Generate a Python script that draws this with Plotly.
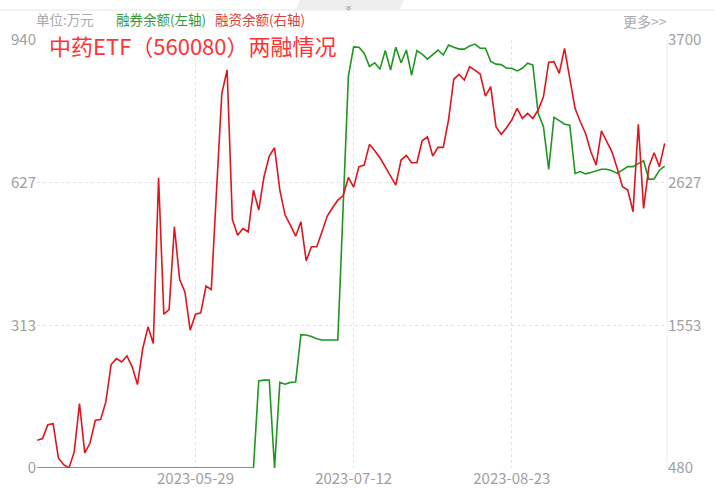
import pandas as pd
import plotly.graph_objects as go

# ---- data ----
holidays = ["2023-05-01", "2023-05-02", "2023-05-03", "2023-06-22", "2023-06-23",
            "2023-09-29", "2023-10-02", "2023-10-03", "2023-10-04", "2023-10-05", "2023-10-06"]
dates = [d.strftime("%Y-%m-%d") for d in
         pd.bdate_range("2023-04-12", "2023-10-11", freq="C", holidays=holidays)]

# 融券余额 (left axis, 万元)
short_balance = [0] * 42 + [
    191, 193, 193, 0, 188, 184, 188, 189, 293, 292,
    289, 284, 281, 281, 281, 281, 570, 860, 925, 924,
    911, 882, 890, 876, 917, 874, 924, 890, 918, 863,
    917, 909, 898, 909, 918, 907, 929, 924, 920, 920,
    927, 931, 922, 922, 893, 887, 886, 878, 878, 872,
    878, 889, 885, 779, 750, 656, 770, 763, 755, 753,
    647, 651, 646, 649, 652, 656, 656, 653, 647, 654,
    662, 662, 669, 675, 634, 635, 654, 663]

# 融资余额 (right axis, 万元)
margin_balance = [
    688, 701, 806, 814, 556, 505, 480, 601, 965, 593,
    668, 839, 844, 977, 1258, 1303, 1278, 1323, 1241, 1108,
    1379, 1542, 1416, 2664, 1637, 1672, 2295, 1898, 1805, 1517,
    1637, 1647, 1848, 1823, 2571, 3299, 3474, 2350, 2232, 2282,
    2257, 2571, 2420, 2671, 2827, 2889, 2571, 2383, 2307, 2224,
    2332, 2039, 2144, 2144, 2257, 2375, 2438, 2495, 2528, 2666,
    2593, 2746, 2759, 2915, 2867, 2814, 2746, 2679, 2608, 2797,
    2832, 2777, 2777, 2942, 2972, 2827, 2892, 2892, 3098, 3406,
    3442, 3399, 3499, 3474, 3444, 3278, 3349, 3048, 2990, 3040,
    3098, 3186, 3110, 3148, 3110, 3173, 3273, 3532, 3537, 3449,
    3637, 3411, 3186, 3085, 2997, 2859, 2759, 3017, 2940, 2859,
    2734, 2596, 2571, 2408, 3065, 2433, 2746, 2852, 2746, 2922]

n = min(len(dates), len(short_balance), len(margin_balance))
dates, short_balance, margin_balance = dates[:n], short_balance[:n], margin_balance[:n]

left_ticks = [0, 313, 627, 940]
right_ticks = [480, 1553, 2627, 3700]
x_ticks = ["2023-05-29", "2023-07-12", "2023-08-23"]

title_text = "中药ETF（560080）两融情况"
unit_text = "单位:万元"
short_name = "融券余额(左轴)"
margin_name = "融资余额(右轴)"

# ---- layout geometry ----
W, H = 714, 489
L, R, T, B = 37, 47, 40, 21
pw, ph = W - L - R, H - T - B


def px(x):
    return (x - L) / pw


def py(y):
    return (H - B - y) / ph


FONT = "Noto Sans CJK SC, Microsoft YaHei, sans-serif"
GRAY = "#a0a0a0"
TICKFONT = dict(size=15, color=GRAY, family=FONT)

fig = go.Figure()
fig.add_trace(go.Scatter(x=dates, y=short_balance, mode="lines", name=short_name,
                         line=dict(color="#1f961f", width=1.6), yaxis="y"))
fig.add_trace(go.Scatter(x=dates, y=margin_balance, mode="lines", name=margin_name,
                         line=dict(color="#e3131b", width=1.6), yaxis="y2"))

fig.update_layout(
    width=W, height=H,
    margin=dict(l=L, r=R, t=T, b=B, autoexpand=False),
    paper_bgcolor="white", plot_bgcolor="white",
    showlegend=False,
    font=dict(family=FONT, size=13, color=GRAY),
    xaxis=dict(type="category", range=[-0.06, n - 1 + 0.44], automargin=False,
               tickmode="array", tickvals=x_ticks, ticktext=x_ticks,
               showgrid=True, gridcolor="#e2e2e2", griddash="dot", gridwidth=1,
               showline=False, zeroline=False, ticks="", ticklen=0,
               tickfont=TICKFONT),
    yaxis=dict(range=[0, 940], tickmode="array", tickvals=left_ticks, automargin=False,
               showgrid=True, gridcolor="#e2e2e2", griddash="dot", gridwidth=1,
               zeroline=False, showline=False, ticks="", ticklen=0,
               tickfont=TICKFONT),
    yaxis2=dict(range=[480, 3700], tickmode="array", tickvals=right_ticks, automargin=False,
                overlaying="y", side="right", showgrid=False, zeroline=False,
                showline=False, ticks="", ticklen=0,
                tickfont=TICKFONT),
)

# right border line of plot and top strip decorations
fig.add_shape(type="line", xref="paper", yref="paper", x0=1, x1=1, y0=0, y1=1,
              line=dict(color="#ececec", width=1))
fig.add_shape(type="line", xref="paper", yref="paper", x0=px(0), x1=px(W), y0=py(10), y1=py(10),
              line=dict(color="#e6e6e6", width=1))
fig.add_shape(type="path", xref="paper", yref="paper",
              path=f"M {px(295)} {py(10)} L {px(300)} {py(0)} L {px(404)} {py(0)} L {px(399)} {py(10)} Z",
              fillcolor="#eeeeee", line=dict(width=0))
fig.add_annotation(xref="paper", yref="paper", x=px(351), y=py(4), text="»", textangle=90,
                   showarrow=False, borderpad=0, font=dict(size=12, color="#999999", family=FONT))

# legend-like header
hdr = dict(xref="paper", yref="paper", xanchor="left", yanchor="middle", showarrow=False, borderpad=0)
fig.add_annotation(x=px(35), y=py(19.5), text=unit_text,
                   font=dict(size=13.5, color="#aaaaaa", family=FONT), **hdr)
fig.add_annotation(x=px(115), y=py(19.5), text=short_name,
                   font=dict(size=13.5, color="#3a9a3a", family=FONT), **hdr)
fig.add_annotation(x=px(214), y=py(19.5), text=margin_name,
                   font=dict(size=13.5, color="#d94040", family=FONT), **hdr)
fig.add_annotation(xref="paper", yref="paper", x=px(668), y=py(21), xanchor="right", yanchor="middle",
                   text="更多&gt;&gt;", showarrow=False, borderpad=0,
                   font=dict(size=14, color="#aaaaaa", family=FONT))

# title inside chart
fig.add_annotation(xref="paper", yref="paper", x=px(48), y=py(45), xanchor="left", yanchor="middle",
                   text=title_text, showarrow=False, borderpad=0,
                   font=dict(size=22, color="#ff3333", family=FONT))

fig.write_html("out.html", config={"displayModeBar": False},
               post_script="document.body.style.margin='0';")
